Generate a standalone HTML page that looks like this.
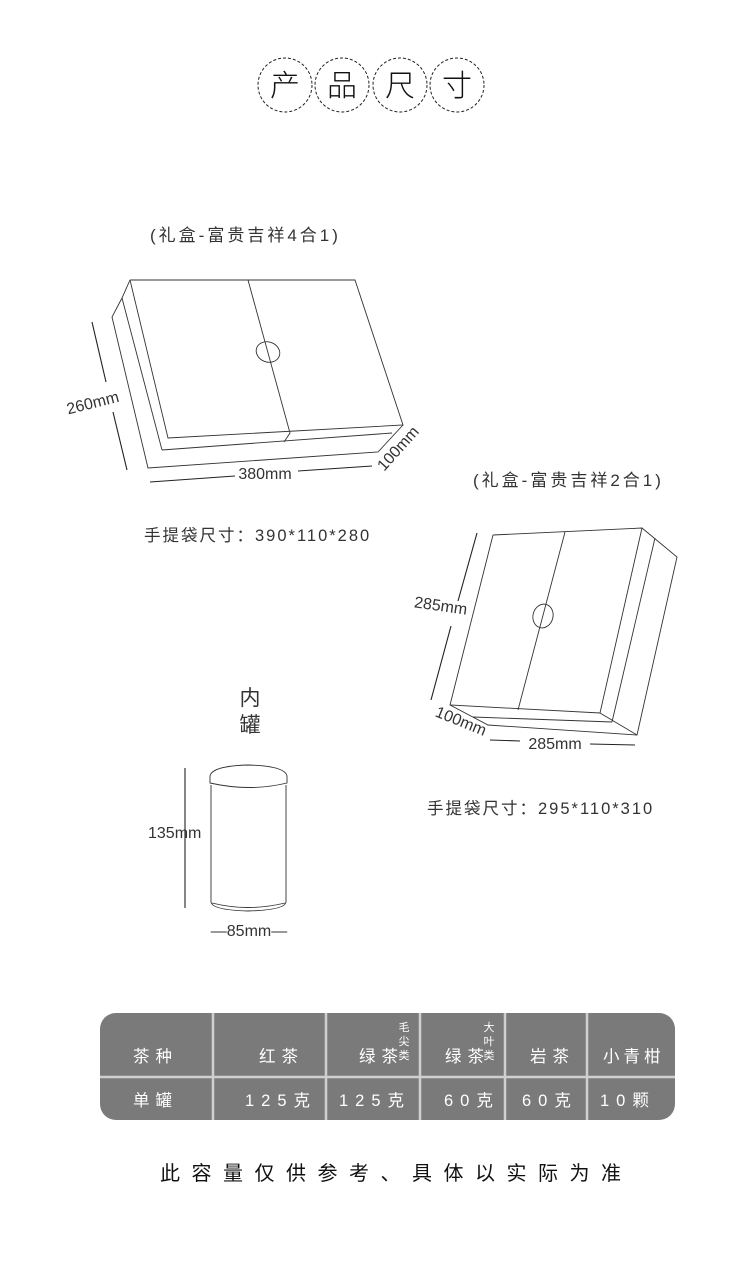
<!DOCTYPE html>
<html><head><meta charset="utf-8"><style>
html,body{margin:0;padding:0;background:#fff;}
svg{display:block;}
text{font-family:"Liberation Sans","Noto Sans CJK SC",sans-serif;}
</style></head><body>
<svg width="750" height="1276" viewBox="0 0 750 1276" xmlns="http://www.w3.org/2000/svg">
<g fill="none" stroke="#222" stroke-width="1" stroke-dasharray="3,2">
<circle cx="285" cy="85" r="27"/><circle cx="342" cy="85" r="27"/><circle cx="400" cy="85" r="27"/><circle cx="457" cy="85" r="27"/>
</g>
<g font-size="30" fill="#111" text-anchor="middle" font-weight="300">
<text x="285" y="96">产</text><text x="342" y="96">品</text><text x="400" y="96">尺</text><text x="457" y="96">寸</text>
</g>

<text x="150" y="241" font-size="17" fill="#333" letter-spacing="3">(礼盒-富贵吉祥4合1)</text>
<g fill="none" stroke="#333" stroke-width="0.9">
<polyline points="130,280 355,280 403,425 168,438 130,280"/>
<polyline points="130,280 122,298 112,317 148,468 378,452 403,425"/>
<line x1="122" y1="298" x2="162" y2="450"/>
<line x1="162" y1="450" x2="392" y2="433"/>
<polyline points="248,280 290,433 284,442"/>
<ellipse cx="268" cy="352" rx="12" ry="10" transform="rotate(20 268 352)"/>
</g>
<g stroke="#222" stroke-width="1.1">
<line x1="92" y1="322" x2="106" y2="382"/><line x1="113" y1="412" x2="127" y2="470"/>
<line x1="150" y1="482" x2="235" y2="476"/><line x1="298" y1="471" x2="372" y2="466"/>
</g>
<text x="265" y="479" font-size="16" fill="#333" text-anchor="middle">380mm</text>
<text x="94" y="408" font-size="16" fill="#333" text-anchor="middle" transform="rotate(-14 94 408)">260mm</text>
<text x="402" y="452" font-size="16" fill="#333" text-anchor="middle" transform="rotate(-48 402 452)">100mm</text>

<text x="144" y="541" font-size="16.5" fill="#333" letter-spacing="2">手提袋尺寸：390*110*280</text>

<text x="473" y="486" font-size="17" fill="#333" letter-spacing="3">(礼盒-富贵吉祥2合1)</text>
<g fill="none" stroke="#333" stroke-width="0.9">
<polyline points="493,535 642,528 600,713 450,705 493,535"/>
<polyline points="642,528 677,557 637,735 488,725 450,705"/>
<line x1="655" y1="538" x2="612" y2="722"/>
<line x1="473" y1="717" x2="612" y2="722"/>
<line x1="600" y1="713" x2="637" y2="735"/>
<line x1="565" y1="532" x2="518" y2="710"/>
<ellipse cx="543" cy="616" rx="10" ry="12" transform="rotate(15 543 616)"/>
</g>
<g stroke="#222" stroke-width="1.1">
<line x1="477" y1="533" x2="458" y2="601"/><line x1="451" y1="626" x2="431" y2="700"/>
<line x1="490" y1="740" x2="520" y2="741"/><line x1="590" y1="744" x2="635" y2="745"/>
</g>
<text x="440" y="611" font-size="16" fill="#333" text-anchor="middle" transform="rotate(8 440 611)">285mm</text>
<text x="459" y="726" font-size="16" fill="#333" text-anchor="middle" transform="rotate(22 459 726)">100mm</text>
<text x="555" y="749" font-size="16" fill="#333" text-anchor="middle">285mm</text>

<text x="427" y="814" font-size="16.5" fill="#333" letter-spacing="2">手提袋尺寸：295*110*310</text>

<text x="250" y="705" font-size="21" fill="#333" text-anchor="middle">内</text>
<text x="250" y="732" font-size="21" fill="#333" text-anchor="middle">罐</text>
<g fill="none" stroke="#333" stroke-width="0.9">
<path d="M210,776 Q212,766 248,765 Q285,766 287,776 L287,783 Q250,792 210,783 Z"/>
<path d="M211,785 L211,902 Q212,910 248,911 Q285,910 286,902 L286,785"/>
<path d="M212,903 Q248,912 285,903"/>
</g>
<line x1="185" y1="768" x2="185" y2="908" stroke="#222" stroke-width="1.1"/>
<text x="148" y="838" font-size="16" fill="#333">135mm</text>
<text x="249" y="936" font-size="16" fill="#333" text-anchor="middle">—85mm—</text>

<rect x="100" y="1013" width="575" height="107" rx="16" fill="#7a7a7a"/>
<g stroke="#cfcfcf" stroke-width="2.5">
<line x1="100" y1="1077" x2="675" y2="1077"/>
<line x1="213" y1="1013" x2="213" y2="1120"/>
<line x1="326" y1="1013" x2="326" y2="1120"/>
<line x1="420" y1="1013" x2="420" y2="1120"/>
<line x1="505" y1="1013" x2="505" y2="1120"/>
<line x1="587" y1="1013" x2="587" y2="1120"/>
</g>
<g fill="#fff" font-size="16.5" letter-spacing="6">
<text x="133" y="1062">茶种</text>
<text x="259" y="1062">红茶</text>
<text x="359" y="1062">绿茶</text>
<text x="445" y="1062">绿茶</text>
<text x="530" y="1062">岩茶</text>
<text x="603" y="1062" letter-spacing="4">小青柑</text>
<text x="133" y="1106">单罐</text>
<text x="245" y="1106" letter-spacing="7">125克</text>
<text x="339" y="1106" letter-spacing="7">125克</text>
<text x="444" y="1106" letter-spacing="7">60克</text>
<text x="522" y="1106" letter-spacing="7">60克</text>
<text x="600" y="1106" letter-spacing="7">10颗</text>
</g>
<g fill="#fff" font-size="11" text-anchor="middle">
<text x="404" y="1031">毛</text><text x="404" y="1045">尖</text><text x="404" y="1059">类</text>
<text x="489" y="1031">大</text><text x="489" y="1045">叶</text><text x="489" y="1059">类</text>
</g>

<text x="160" y="1180" font-size="20" fill="#111" letter-spacing="11.5">此容量仅供参考、具体以实际为准</text>
</svg>
</body></html>
